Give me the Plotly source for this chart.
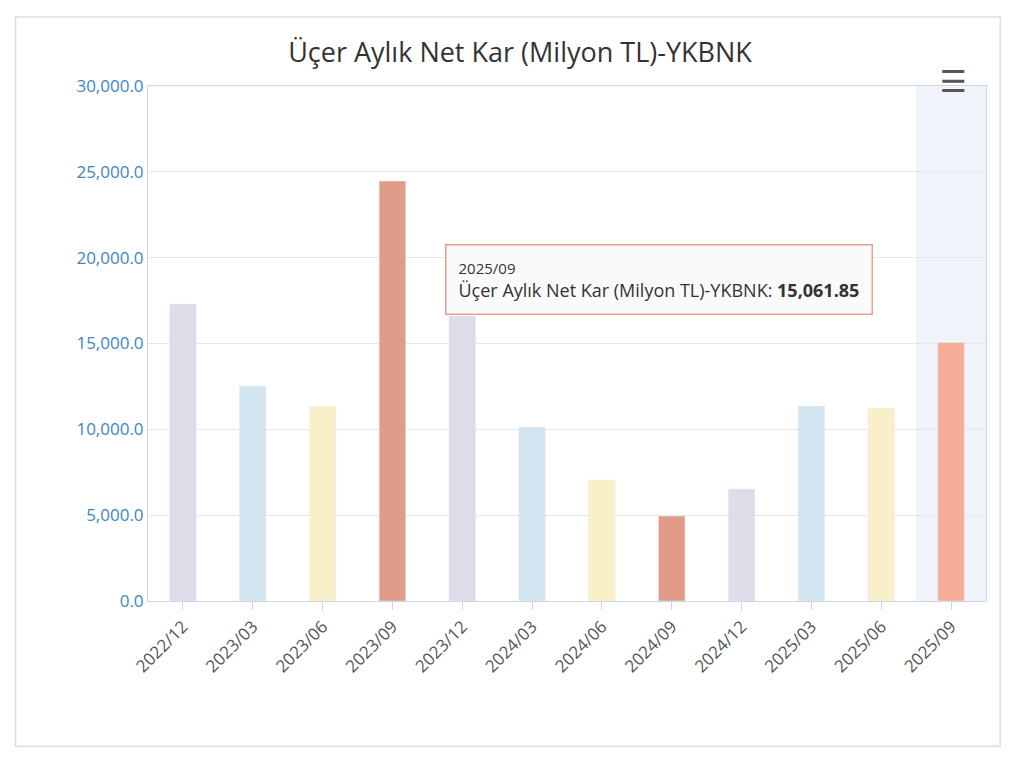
import plotly.graph_objects as go

periods = ["2022/12", "2023/03", "2023/06", "2023/09", "2023/12", "2024/03",
           "2024/06", "2024/09", "2024/12", "2025/03", "2025/06", "2025/09"]
net_kar = [17300, 12520, 11330, 24460, 16600, 10130,
           7050, 4950, 6520, 11360, 11240, 15061.85]
colors = ["#e0dbe8", "#d2e5f1", "#faf0c8", "#e09c88"] * 3
colors[-1] = "#f7ae98"

title = "Üçer Aylık Net Kar (Milyon TL)-YKBNK"

fig = go.Figure(go.Bar(x=periods, y=net_kar, marker_color=colors, width=0.38))

# hovered category band
fig.add_shape(type="rect", xref="x", yref="paper", x0=len(periods) - 1.5, x1=len(periods) - 0.5,
              y0=0, y1=1, fillcolor="rgba(204,214,235,0.3)", line_width=0, layer="below")

# card border
fig.add_shape(type="rect", xref="paper", yref="paper", x0=-0.158, x1=1.017, y0=-0.282, y1=1.134,
              line=dict(color="#dddddd", width=1.5))

# tooltip
fig.add_annotation(xref="paper", yref="paper", x=0.354, y=0.693, xanchor="left", yanchor="top",
                   text="<span style='font-size:15px'>2025/09</span><br>" + title + ": <b>15,061.85</b>",
                   align="left", showarrow=False, bgcolor="rgba(250,250,250,0.95)",
                   bordercolor="#e8a08c", borderwidth=1.5, borderpad=12,
                   font=dict(size=18, color="#333333"))
fig.add_annotation(xref="paper", yref="paper", x=0.98, y=1.055, text="☰", showarrow=False,
                   font=dict(size=30, color="#555555"))

fig.update_layout(
    title=dict(text=title, x=0.5, y=0.955, font=dict(size=27, color="#333333")),
    font=dict(family="Open Sans, DejaVu Sans", color="#555555"),
    width=1024, height=772, margin=dict(l=140, r=46, t=78, b=179),
    plot_bgcolor="white", paper_bgcolor="white", showlegend=False,
    xaxis=dict(tickangle=-45, tickfont=dict(size=17, color="#555555"), showline=True,
               linecolor="#ccd6eb", ticks="outside", ticklen=8, tickcolor="#ccd6eb",
               mirror=True),
    yaxis=dict(range=[0, 30000], dtick=5000, tickformat=",.1f", gridcolor="#e6e6e6",
               tickfont=dict(size=17, color="#3d85c6"), showline=True, linecolor="#ccd6eb",
               mirror=True, zeroline=False),
)

fig.write_html("out.html")
